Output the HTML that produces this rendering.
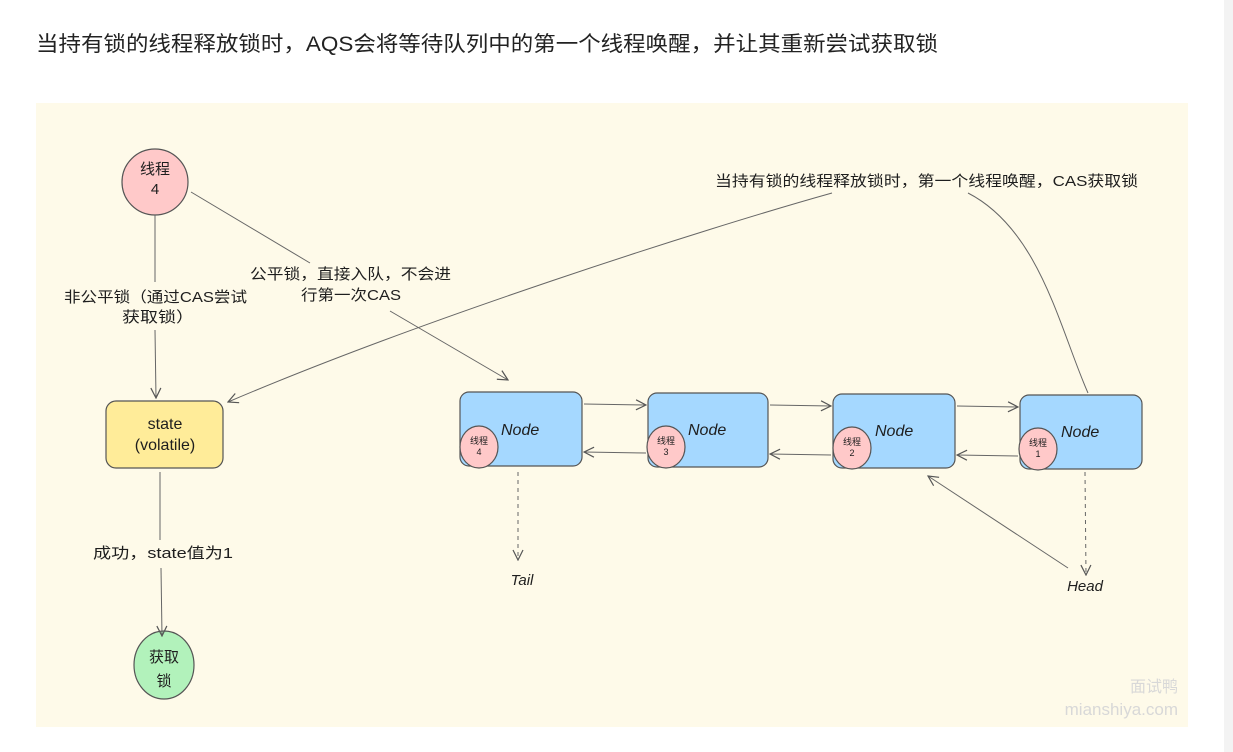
<!DOCTYPE html>
<html><head><meta charset="utf-8"><style>
html,body{margin:0;padding:0;background:#fff;width:1233px;height:752px;overflow:hidden}
svg{display:block}
text{font-family:"Liberation Sans","Noto Sans CJK SC",sans-serif}
.h{font-family:"Liberation Sans","WenQuanYi Zen Hei","Noto Sans CJK SC",sans-serif;fill:#1e1e1e}
</style></head><body>
<svg width="1233" height="752" viewBox="0 0 1233 752" xmlns="http://www.w3.org/2000/svg">
<defs>
<marker id="a" viewBox="0 0 12 12" refX="11" refY="6" markerWidth="12" markerHeight="12" markerUnits="userSpaceOnUse" orient="auto"><path d="M1,1 L11,6 L1,11" fill="none" stroke="#555" stroke-width="1.2"/></marker>
</defs>
<rect x="1224" y="0" width="9" height="752" fill="#f3f3f3"/>
<text x="36" y="51" font-size="21" fill="#222" textLength="902" lengthAdjust="spacingAndGlyphs">当持有锁的线程释放锁时，AQS会将等待队列中的第一个线程唤醒，并让其重新尝试获取锁</text>
<rect x="36" y="103" width="1152" height="624" fill="#fefae9"/>

<circle cx="155" cy="182" r="33" fill="#ffc9c9" stroke="#555" stroke-width="1.2"/>
<text class="h" x="155" y="174" font-size="15" text-anchor="middle">线程</text>
<text class="h" x="155" y="194" font-size="15" text-anchor="middle">4</text>

<rect x="106" y="401" width="117" height="67" rx="10" fill="#ffec99" stroke="#555" stroke-width="1.2"/>
<text class="h" x="165" y="429" font-size="16" text-anchor="middle">state</text>
<text class="h" x="165" y="450" font-size="16" text-anchor="middle">(volatile)</text>

<ellipse cx="164" cy="665" rx="30" ry="34" fill="#b2f2bb" stroke="#555" stroke-width="1.2"/>
<text class="h" x="164" y="662" font-size="15" text-anchor="middle">获取</text>
<text class="h" x="164" y="686" font-size="15" text-anchor="middle">锁</text>

<line x1="155" y1="215" x2="155" y2="282" stroke="#666" stroke-width="1"/>
<line x1="155" y1="330" x2="156" y2="398" stroke="#666" stroke-width="1" marker-end="url(#a)"/>
<text class="h" x="64" y="302" font-size="15" textLength="183" lengthAdjust="spacingAndGlyphs">非公平锁（通过CAS尝试</text>
<text class="h" x="122" y="322" font-size="15" textLength="72" lengthAdjust="spacingAndGlyphs">获取锁）</text>
<line x1="160" y1="472" x2="160" y2="540" stroke="#666" stroke-width="1"/>
<line x1="161" y1="568" x2="162" y2="636" stroke="#666" stroke-width="1" marker-end="url(#a)"/>
<text class="h" x="93" y="558" font-size="15" textLength="140" lengthAdjust="spacingAndGlyphs">成功，state值为1</text>

<line x1="191" y1="192" x2="310" y2="263" stroke="#666" stroke-width="1"/>
<text class="h" x="250" y="279" font-size="15" textLength="201" lengthAdjust="spacingAndGlyphs">公平锁，直接入队，不会进</text>
<text class="h" x="301" y="300" font-size="15" textLength="100" lengthAdjust="spacingAndGlyphs">行第一次CAS</text>
<line x1="390" y1="311" x2="508" y2="380" stroke="#666" stroke-width="1" marker-end="url(#a)"/>

<text class="h" x="715" y="186" font-size="15" textLength="423" lengthAdjust="spacingAndGlyphs">当持有锁的线程释放锁时，第一个线程唤醒，CAS获取锁</text>
<path d="M832,193 C700,230 420,320 228,402" fill="none" stroke="#666" stroke-width="1" marker-end="url(#a)"/>
<path d="M968,193 C1040,230 1060,330 1088,393" fill="none" stroke="#666" stroke-width="1"/>

<g stroke="#555" stroke-width="1.2">
<rect x="460" y="392" width="122" height="74" rx="9" fill="#a5d8ff"/>
<rect x="648" y="393" width="120" height="74" rx="9" fill="#a5d8ff"/>
<rect x="833" y="394" width="122" height="74" rx="9" fill="#a5d8ff"/>
<rect x="1020" y="395" width="122" height="74" rx="9" fill="#a5d8ff"/>
<ellipse cx="479" cy="447" rx="19" ry="21" fill="#ffc9c9"/>
<ellipse cx="666" cy="447" rx="19" ry="21" fill="#ffc9c9"/>
<ellipse cx="852" cy="448" rx="19" ry="21" fill="#ffc9c9"/>
<ellipse cx="1038" cy="449" rx="19" ry="21" fill="#ffc9c9"/>
</g>
<g class="h" font-size="16" font-style="italic">
<text x="501" y="435">Node</text><text x="688" y="435">Node</text><text x="875" y="436">Node</text><text x="1061" y="437">Node</text>
</g>
<g class="h" font-size="9" text-anchor="middle">
<text x="479" y="444">线程</text><text x="479" y="455">4</text>
<text x="666" y="444">线程</text><text x="666" y="455">3</text>
<text x="852" y="445">线程</text><text x="852" y="456">2</text>
<text x="1038" y="446">线程</text><text x="1038" y="457">1</text>
</g>
<g stroke="#666" stroke-width="1" fill="none">
<line x1="584" y1="404" x2="646" y2="405" marker-end="url(#a)"/>
<line x1="770" y1="405" x2="831" y2="406" marker-end="url(#a)"/>
<line x1="957" y1="406" x2="1018" y2="407" marker-end="url(#a)"/>
<line x1="646" y1="453" x2="584" y2="452" marker-end="url(#a)"/>
<line x1="831" y1="455" x2="770" y2="454" marker-end="url(#a)"/>
<line x1="1018" y1="456" x2="957" y2="455" marker-end="url(#a)"/>
<line x1="518" y1="472" x2="518" y2="560" stroke-dasharray="4 4" marker-end="url(#a)"/>
<line x1="1085" y1="472" x2="1086" y2="575" stroke-dasharray="4 4" marker-end="url(#a)"/>
<line x1="1068" y1="568" x2="928" y2="476" marker-end="url(#a)"/>
</g>
<text class="h" x="522" y="585" font-size="15" text-anchor="middle" font-style="italic">Tail</text>
<text class="h" x="1085" y="591" font-size="15" text-anchor="middle" font-style="italic">Head</text>

<text x="1178" y="692" font-size="16" fill="#d8d8d8" text-anchor="end">面试鸭</text>
<text x="1178" y="715" font-size="17" fill="#d8d8d8" text-anchor="end">mianshiya.com</text>
</svg>
</body></html>
